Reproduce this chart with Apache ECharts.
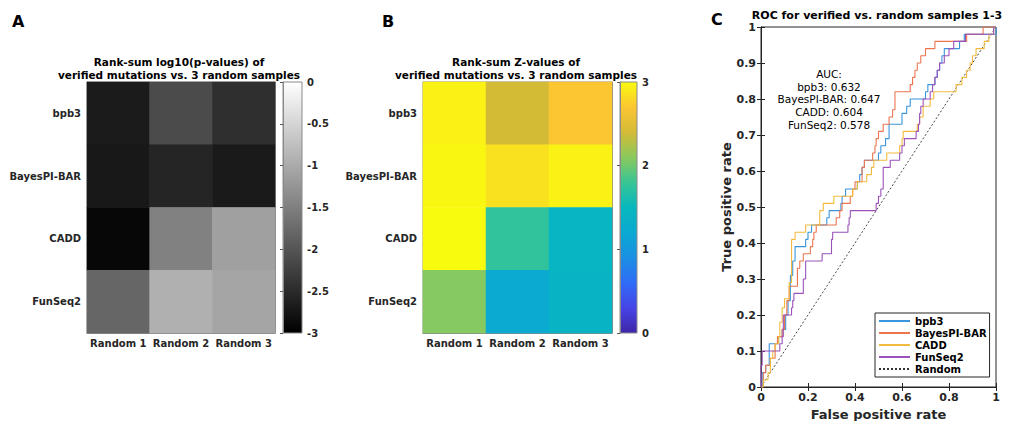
<!DOCTYPE html>
<html><head><meta charset="utf-8">
<script src="https://cdn.jsdelivr.net/npm/echarts/dist/echarts.min.js"></script>
<style>html,body{margin:0;padding:0;background:#fff}#c{width:1014px;height:421px}</style>
</head><body><div id="c"></div>
<script>
// ---------- data ----------
const rowNames = ['bpb3', 'BayesPI-BAR', 'CADD', 'FunSeq2'];
const colNames = ['Random 1', 'Random 2', 'Random 3'];

// Panel A: rank-sum log10(p-values)
const logP_bpb3    = [-2.68, -2.12, -2.45];
const logP_bayes   = [-2.72, -2.56, -2.69];
const logP_cadd    = [-2.92, -1.48, -1.12];
const logP_funseq2 = [-1.80, -0.93, -1.06];

// Panel B: rank-sum Z-values
const z_bpb3    = [2.95, 2.40, 2.70];
const z_bayes   = [2.97, 2.85, 2.95];
const z_cadd    = [3.00, 1.75, 1.43];
const z_funseq2 = [2.08, 1.22, 1.42];

const cbarTicksA = [-3, 0, 0.5];   // min, max, interval
const cbarTicksB = [0, 3, 1];

// Panel C: ROC curves, points where the curve steps up ([fpr, tpr])
const roc_bpb3 = [[0,0],[0.005,0.04],[0.02,0.06],[0.035,0.12],[0.075,0.14],[0.09,0.16],[0.105,0.20],[0.115,0.24],[0.125,0.31],[0.135,0.35],[0.145,0.39],[0.19,0.41],[0.2,0.43],[0.215,0.45],[0.28,0.47],[0.29,0.49],[0.34,0.51],[0.345,0.53],[0.36,0.55],[0.41,0.57],[0.42,0.59],[0.43,0.61],[0.44,0.63],[0.5,0.65],[0.51,0.67],[0.53,0.69],[0.545,0.73],[0.6,0.76],[0.62,0.78],[0.635,0.80],[0.7,0.82],[0.71,0.84],[0.74,0.86],[0.75,0.88],[0.76,0.90],[0.77,0.92],[0.78,0.94],[0.845,0.96],[0.865,0.98],[1,1]];
const roc_bayes = [[0,0],[0.01,0.04],[0.02,0.06],[0.04,0.08],[0.06,0.12],[0.07,0.14],[0.09,0.16],[0.1,0.20],[0.11,0.24],[0.12,0.28],[0.155,0.33],[0.165,0.35],[0.18,0.37],[0.21,0.39],[0.22,0.41],[0.225,0.43],[0.235,0.45],[0.32,0.47],[0.335,0.49],[0.345,0.51],[0.38,0.53],[0.39,0.55],[0.40,0.57],[0.43,0.61],[0.44,0.63],[0.475,0.65],[0.485,0.67],[0.49,0.69],[0.5,0.71],[0.52,0.73],[0.545,0.75],[0.56,0.77],[0.57,0.82],[0.635,0.84],[0.645,0.86],[0.655,0.88],[0.665,0.90],[0.68,0.92],[0.70,0.94],[0.74,0.96],[0.875,0.98],[0.945,1.0],[1,1]];
const roc_cadd = [[0,0],[0.01,0.02],[0.03,0.04],[0.04,0.08],[0.05,0.10],[0.06,0.12],[0.075,0.14],[0.08,0.18],[0.09,0.22],[0.1,0.245],[0.12,0.29],[0.13,0.41],[0.145,0.43],[0.19,0.45],[0.25,0.49],[0.265,0.51],[0.31,0.53],[0.39,0.55],[0.41,0.57],[0.45,0.59],[0.47,0.61],[0.48,0.63],[0.535,0.65],[0.59,0.67],[0.6,0.69],[0.605,0.71],[0.665,0.73],[0.675,0.75],[0.69,0.78],[0.72,0.80],[0.735,0.82],[0.83,0.84],[0.855,0.86],[0.875,0.88],[0.89,0.90],[0.9,0.92],[0.915,0.94],[0.95,0.96],[0.97,0.98],[0.99,1.0],[1,1]];
const roc_funseq2 = [[0,0],[0,0.06],[0.005,0.10],[0.08,0.12],[0.09,0.14],[0.095,0.20],[0.13,0.22],[0.135,0.24],[0.14,0.26],[0.18,0.30],[0.19,0.35],[0.26,0.37],[0.3,0.41],[0.305,0.43],[0.37,0.45],[0.375,0.47],[0.38,0.49],[0.49,0.51],[0.5,0.53],[0.51,0.55],[0.52,0.61],[0.55,0.63],[0.59,0.65],[0.6,0.67],[0.61,0.69],[0.66,0.71],[0.67,0.73],[0.675,0.76],[0.68,0.78],[0.69,0.80],[0.72,0.82],[0.73,0.84],[0.74,0.86],[0.75,0.88],[0.76,0.90],[0.78,0.92],[0.8,0.94],[0.82,0.96],[0.87,0.98],[0.99,1.0],[1,1]];
const roc_random = [[0,0],[1,1]];
const aucLines = ['AUC:', 'bpb3: 0.632', 'BayesPI-BAR: 0.647', 'CADD: 0.604', 'FunSeq2: 0.578'];

// ---------- styles ----------
const FONT = '"DejaVu Sans", sans-serif';
const parula = ['#3e26a8','#4744e6','#2f6cf7','#1a8fe3','#0aa9d2','#07b8bd','#38c595','#8bc95c','#d4bb36','#fbc632','#f9fb0e'];
const grayMap = ['#000000', '#ffffff'];

function toCells(rows) {
  const out = [];
  rows.forEach((r, ri) => r.forEach((v, ci) => out.push([ci, ri, v])));
  return out;
}
const cellsA = toCells([logP_bpb3, logP_bayes, logP_cadd, logP_funseq2]);
const cellsB = toCells([z_bpb3, z_bayes, z_cadd, z_funseq2]);

function gradient(colorsLowToHigh) {
  const n = colorsLowToHigh.length - 1;
  return new echarts.graphic.LinearGradient(0, 0, 0, 1,
    colorsLowToHigh.slice().reverse().map((c, i) => ({ offset: i / n, color: c })));
}

const lbl = { fontFamily: FONT, fontWeight: 'bold', fontSize: 10, color: '#262626' };
const heatBorder = '#8a8a8a';

function catX(grid, pos, show) {
  return { type: 'category', gridIndex: grid, data: colNames, position: pos,
    axisLine: { show: true, lineStyle: { color: heatBorder } },
    axisTick: { show: true, inside: true, alignWithLabel: true, interval: 0, length: 3, lineStyle: { color: '#555' } },
    axisLabel: Object.assign({ show: show, margin: 5, interval: 0 }, lbl),
    splitLine: { show: false } };
}
function catY(grid, pos, show) {
  return { type: 'category', gridIndex: grid, data: rowNames, inverse: true, position: pos,
    axisLine: { show: true, lineStyle: { color: heatBorder } },
    axisTick: { show: true, inside: true, alignWithLabel: true, interval: 0, length: 3, lineStyle: { color: '#555' } },
    axisLabel: Object.assign({ show: show, margin: 6, interval: 0 }, lbl),
    splitLine: { show: false } };
}
function cbarY(grid, t) {
  return { type: 'value', gridIndex: grid, position: 'right', min: t[0], max: t[1], interval: t[2],
    axisLine: { show: true, lineStyle: { color: heatBorder } },
    axisTick: { show: true, inside: true, length: 3, lineStyle: { color: '#555' } },
    axisLabel: Object.assign({ margin: 5 }, lbl),
    splitLine: { show: false } };
}
function hiddenX(grid) {
  return { type: 'value', gridIndex: grid, min: 0, max: 1, show: false };
}
const rocAxisLine = { show: true, lineStyle: { color: '#262626', width: 1 } };
const rocLbl = { fontFamily: FONT, fontWeight: 'bold', fontSize: 11, color: '#262626' };
function rocX(pos, show) {
  return { type: 'value', gridIndex: 4, min: 0, max: 1, interval: 0.2, position: pos,
    axisLine: rocAxisLine,
    axisTick: { show: true, inside: true, length: 4, lineStyle: { color: '#262626' } },
    axisLabel: Object.assign({ show: show, margin: 5 }, rocLbl),
    splitLine: { show: false },
    name: show ? 'False positive rate' : '', nameLocation: 'middle', nameGap: 18,
    nameTextStyle: { fontFamily: FONT, fontWeight: 'bold', fontSize: 13, color: '#262626' } };
}
function rocY(pos, show) {
  return { type: 'value', gridIndex: 4, min: 0, max: 1, interval: 0.1, position: pos,
    axisLine: rocAxisLine,
    axisTick: { show: true, inside: true, length: 4, lineStyle: { color: '#262626' } },
    axisLabel: Object.assign({ show: show, margin: 5 }, rocLbl),
    splitLine: { show: false },
    name: show ? 'True positive rate' : '', nameLocation: 'middle', nameGap: 28, nameRotate: 90,
    nameTextStyle: { fontFamily: FONT, fontWeight: 'bold', fontSize: 13, color: '#262626' } };
}
function rocLine(name, data, color) {
  return { type: 'line', name: name, data: data, xAxisIndex: 6, yAxisIndex: 6,
    step: 'end', showSymbol: false, symbol: 'none', animation: false,
    lineStyle: { color: color, width: 1.1 }, itemStyle: { color: color }, z: 3 };
}

function txt(x, y, text, size, weight, align) {
  return { type: 'text', x: x, y: y, silent: true,
    style: { text: text, fontFamily: FONT, fontSize: size, fontWeight: weight, fill: '#000',
      textAlign: align, textVerticalAlign: 'middle', align: align, verticalAlign: 'middle' } };
}

const graphics = [
  txt(12, 21, 'A', 16, 'bold', 'left'),
  txt(382, 21, 'B', 16, 'bold', 'left'),
  txt(711, 19, 'C', 16, 'bold', 'left'),
  txt(179, 62, 'Rank-sum log10(p-values) of', 10.5, 'bold', 'center'),
  txt(179, 75, 'verified mutations vs. 3 random samples', 10.5, 'bold', 'center'),
  txt(516, 62, 'Rank-sum Z-values of', 10.5, 'bold', 'center'),
  txt(516, 75, 'verified mutations vs. 3 random samples', 10.5, 'bold', 'center'),
  txt(877, 15, 'ROC for verified vs. random samples 1-3', 11, 'bold', 'center')
];
aucLines.forEach((t, i) => graphics.push(txt(829, 74 + i * 12.7, t, 10.5, 'normal', 'center')));

const gridBase = { show: true, borderColor: heatBorder, borderWidth: 1, containLabel: false, outerBoundsMode: 'none' };

const chart = echarts.init(document.getElementById('c'), null, { renderer: 'svg' });
chart.setOption({
  animation: false,
  backgroundColor: '#ffffff',
  grid: [
    Object.assign({}, gridBase, { left: 87, top: 82, width: 188, height: 251, backgroundColor: 'transparent' }),
    Object.assign({}, gridBase, { left: 283, top: 82, width: 19, height: 251, backgroundColor: gradient(grayMap) }),
    Object.assign({}, gridBase, { left: 423, top: 82, width: 189, height: 251, backgroundColor: 'transparent' }),
    Object.assign({}, gridBase, { left: 620, top: 82, width: 17, height: 251, backgroundColor: gradient(parula) }),
    Object.assign({}, gridBase, { left: 761, top: 27, width: 235, height: 360, borderColor: '#262626', backgroundColor: '#fff' })
  ],
  xAxis: [
    catX(0, 'bottom', true), catX(0, 'top', false), hiddenX(1),
    catX(2, 'bottom', true), catX(2, 'top', false), hiddenX(3),
    rocX('bottom', true), rocX('top', false)
  ],
  yAxis: [
    catY(0, 'left', true), catY(0, 'right', false), cbarY(1, cbarTicksA),
    catY(2, 'left', true), catY(2, 'right', false), cbarY(3, cbarTicksB),
    rocY('left', true), rocY('right', false)
  ],
  visualMap: [
    { type: 'continuous', show: false, seriesIndex: 0, min: -3, max: 0, inRange: { color: grayMap } },
    { type: 'continuous', show: false, seriesIndex: 1, min: 0, max: 3, inRange: { color: parula } }
  ],
  legend: {
    show: true, orient: 'vertical', left: 875, top: 313,
    data: ['bpb3', 'BayesPI-BAR', 'CADD', 'FunSeq2', 'Random'],
    backgroundColor: '#fff', borderColor: '#262626', borderWidth: 1,
    padding: [3, 3, 3, 3], itemGap: 2, itemWidth: 31, itemHeight: 10,
    itemStyle: { opacity: 0 },
    textStyle: { fontFamily: FONT, fontWeight: 'bold', fontSize: 10, color: '#000' },
    selectedMode: false
  },
  series: [
    { type: 'heatmap', data: cellsA, xAxisIndex: 0, yAxisIndex: 0, itemStyle: { borderWidth: 0 }, emphasis: { disabled: true } },
    { type: 'heatmap', data: cellsB, xAxisIndex: 3, yAxisIndex: 3, itemStyle: { borderWidth: 0 }, emphasis: { disabled: true } },
    rocLine('bpb3', roc_bpb3, '#3a95dc'),
    rocLine('BayesPI-BAR', roc_bayes, '#ec7550'),
    rocLine('CADD', roc_cadd, '#f2bb40'),
    rocLine('FunSeq2', roc_funseq2, '#9b52bb'),
    { type: 'line', name: 'Random', data: roc_random, xAxisIndex: 6, yAxisIndex: 6,
      showSymbol: false, symbol: 'none', animation: false,
      lineStyle: { color: '#333', width: 0.9, type: [2, 2] }, itemStyle: { color: '#333' }, z: 2 }
  ],
  graphic: graphics
});
</script></body></html>
